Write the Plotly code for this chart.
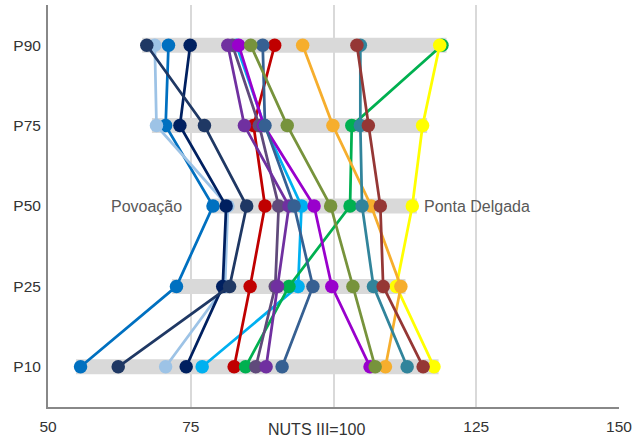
import plotly.graph_objects as go

categories = ["P10", "P25", "P50", "P75", "P90"]

series_names = ["Povoação", "Série 2", "Série 3", "Série 4", "Série 5", "Série 6",
                "Série 7", "Série 8", "Série 9", "Série 10", "Série 11",
                "Ponta Delgada", "Série 13", "Série 14", "Série 15", "Série 16"]

s_povoacao = [55.7, 72.5, 78.9, 70.6, 71.1]
s2 = [70.6, 81.0, 81.5, 69.0, 68.7]
s3 = [74.2, 80.6, 81.2, 73.1, 74.9]
s4 = [62.3, 81.8, 84.8, 77.4, 67.3]
s5 = [77.0, 93.8, 94.4, 87.9, 83.0]
s6 = [82.6, 85.4, 88.0, 86.0, 89.7]
s7 = [84.6, 92.2, 102.9, 103.2, 119.0]
s8 = [86.4, 89.8, 90.4, 87.0, 82.3]
s9 = [88.2, 90.2, 92.2, 84.4, 81.5]
s10 = [106.4, 99.7, 96.6, 87.8, 83.4]
s11 = [91.0, 96.4, 93.1, 88.0, 87.6]
s_ponta_delgada = [117.6, 111.0, 113.8, 115.6, 118.6]
s13 = [109.1, 111.8, 106.6, 99.9, 94.6]
s14 = [107.3, 103.4, 99.5, 91.9, 85.5]
s15 = [112.9, 107.0, 105.0, 104.7, 104.7]
s16 = [115.7, 108.7, 108.2, 106.1, 104.1]

series_values = [s_povoacao, s2, s3, s4, s5, s6, s7, s8, s9, s10, s11,
                 s_ponta_delgada, s13, s14, s15, s16]

colors = ["#0070C0", "#9DC3E6", "#002060", "#1F3864", "#00B0F0", "#C00000",
          "#00B050", "#604A7B", "#7030A0", "#9900CC", "#366092", "#FFFF00",
          "#F6AE2D", "#77933C", "#31849B", "#953735"]

x_tickvals = [50, 75, 100, 125, 150]
x_ticktext = ["50", "75", "", "125", "150"]

FONT = "Liberation Sans, Arial"

fig = go.Figure()

# grey range bands per percentile
pad = 0.8
for i, cat in enumerate(categories):
    vals = [s[i] for s in series_values]
    fig.add_trace(go.Scatter(
        x=[min(vals) - pad, max(vals) + pad], y=[cat, cat], mode="lines",
        line=dict(color="#D9D9D9", width=15), hoverinfo="skip", showlegend=False))

for name, vals, col in zip(series_names, series_values, colors):
    fig.add_trace(go.Scatter(
        x=vals, y=categories, mode="lines+markers", name=name,
        line=dict(color=col, width=2.75),
        marker=dict(color=col, size=13.5, line=dict(width=0)),
        showlegend=False))

fig.add_annotation(x=s_povoacao[2], y="P50", text="Povoação", showarrow=False,
                   xanchor="right", xshift=-29,
                   font=dict(family=FONT, size=16, color="#595959"))
fig.add_annotation(x=s_ponta_delgada[2], y="P50", text="Ponta Delgada", showarrow=False,
                   xanchor="left", xshift=10,
                   font=dict(family=FONT, size=16, color="#595959"))
fig.add_annotation(x=(316 - 48) / (619 - 48), y=-(430 - 407) / (407 - 5),
                   xref="paper", yref="paper", text="NUTS III=100",
                   showarrow=False, xanchor="center", yanchor="middle",
                   font=dict(family=FONT, size=16, color="#333333"))

fig.update_layout(
    width=644, height=438,
    margin=dict(l=48, r=25, t=5, b=31),
    plot_bgcolor="white", paper_bgcolor="white",
    font=dict(family=FONT, size=15.5, color="#333333"),
    xaxis=dict(range=[50, 150], tickvals=x_tickvals, ticktext=x_ticktext,
               showgrid=True, gridcolor="#D9D9D9", gridwidth=2,
               showline=True, linecolor="#888888", linewidth=2,
               zeroline=False, ticks="", ticklabelstandoff=4, automargin=False),
    yaxis=dict(type="category", categoryorder="array", categoryarray=categories,
               range=[-0.5, 4.5], showgrid=False,
               showline=True, linecolor="#888888", linewidth=2,
               zeroline=False, ticks="", ticklabelstandoff=2, automargin=False),
)

fig.write_html("out.html", config={"displayModeBar": False},
               post_script="document.body.style.margin='0';document.body.style.overflow='hidden';")
